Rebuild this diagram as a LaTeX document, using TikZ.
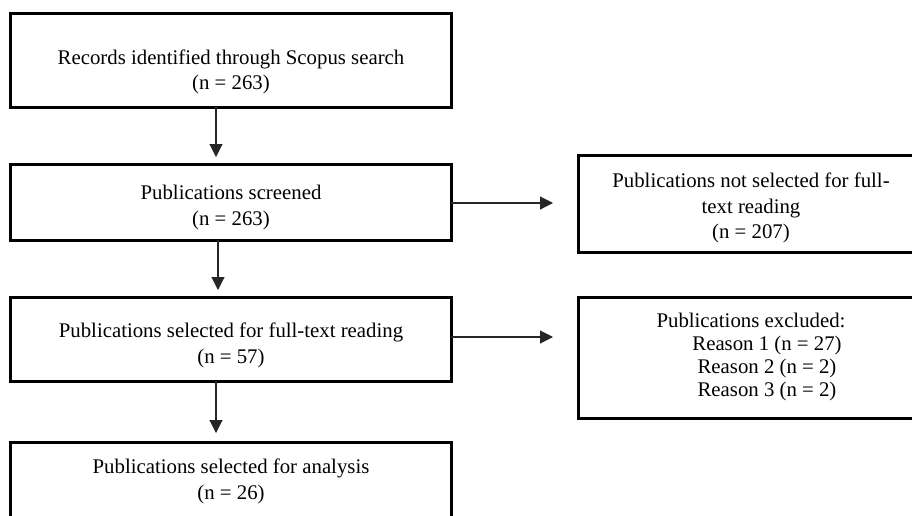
\documentclass[tikz,border=0pt]{standalone}
\usepackage{fontspec}
\setmainfont{Liberation Serif}
\usetikzlibrary{arrows.meta}
\begin{document}
\begin{tikzpicture}[x=1pt,y=-1pt,
  box/.style={draw=black, line width=3pt, rectangle, inner sep=0pt, outer sep=0pt},
  txt/.style={font=\fontsize{20.8}{25.5}\selectfont, align=center, inner sep=0pt},
  arr/.style={draw=black!85, line width=1.1pt, -{Triangle[width=13pt,length=13pt]}}]
\useasboundingbox (0,0) rectangle (912,515);
\fill[white] (0,0) rectangle (912,515);
% boxes
\node[box, minimum width=441pt, minimum height=94pt] (b1) at (230.5,60) {};
\node[box, minimum width=441pt, minimum height=76pt] (b2) at (230.5,202) {};
\node[box, minimum width=340pt, minimum height=97pt] (b3) at (748,203.5) {};
\node[box, minimum width=441pt, minimum height=84pt] (b4) at (230.5,339) {};
\node[box, minimum width=340pt, minimum height=121pt] (b5) at (748,357.5) {};
\node[box, minimum width=441pt, minimum height=83pt] (b6) at (230.5,483.5) {};
% texts
\node[txt] (l1) at (231,72) {Records identified through Scopus search\\(n = 263)};
\node[txt] (l2) at (231,207.5) {Publications screened\\(n = 263)};
\node[txt] (l3) at (751,208) {Publications not selected for full-\\text reading\\(n = 207)};
\node[txt] (l4) at (231,345.5) {Publications selected for full-text reading\\(n = 57)};
\node[txt] (l5a) at (751,320) {Publications excluded:};
\node[txt] (l5b) at (767,345) {Reason 1 (n = 27)};
\node[txt] (l5c) at (767,368) {Reason 2 (n = 2)};
\node[txt] (l5d) at (767,391) {Reason 3 (n = 2)};
\node[txt] (l6) at (231,481.5) {Publications selected for analysis\\(n = 26)};
% arrow start points
\coordinate (s2) at ([yshift=-1pt]b2.east);
\coordinate (s4) at ([yshift=2pt]b4.east);
% arrows
\draw[arr, shorten >=7pt] ([xshift=-14.5pt]b1.south) -- ([xshift=-14.5pt]b2.north);
\draw[arr, shorten >=7pt] ([xshift=-12.5pt]b2.south) -- ([xshift=-12.5pt]b4.north);
\draw[arr, shorten >=9pt] ([xshift=-14.5pt]b4.south) -- ([xshift=-14.5pt]b6.north);
\draw[arr, shorten >=25pt] (s2) -- (s2 -| b3.west);
\draw[arr, shorten >=25pt] (s4) -- (s4 -| b5.west);
\end{tikzpicture}
\end{document}
